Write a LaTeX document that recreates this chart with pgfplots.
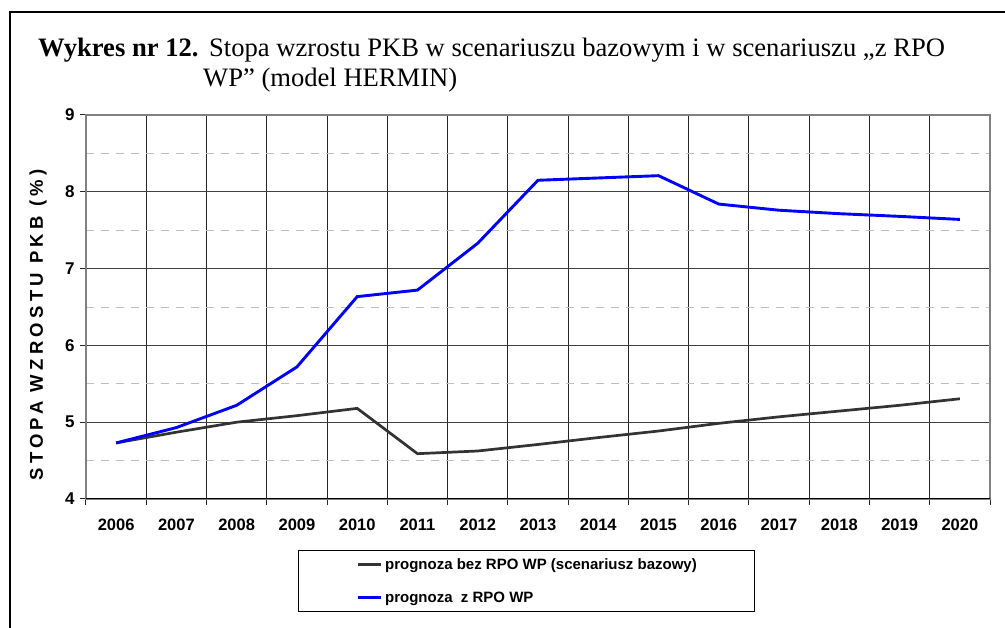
\documentclass[border=0pt]{standalone}
\usepackage{fontspec}
\setmainfont{Liberation Serif}
\newfontfamily\arial{Liberation Sans}
\usepackage{pgfplots}
\pgfplotsset{compat=1.18}
\definecolor{darkline}{HTML}{333333}
\begin{document}
\begin{tikzpicture}[x=1pt,y=1pt]
\useasboundingbox (-86,-129) rectangle (919,499);
% outer frame (top and left edges)
\draw[line width=2pt] (-76,-140) -- (-76,487) -- (930,487);
% title
\node[anchor=base west, inner sep=0pt, font=\bfseries\fontsize{26.6}{30}\selectfont] at (-48,442) {Wykres nr 12.};
\node[anchor=base west, inner sep=0pt, font=\fontsize{26.6}{30}\selectfont] at (123,442) {Stopa wzrostu PKB w scenariuszu bazowym i w scenariuszu „z RPO};
\node[anchor=base west, inner sep=0pt, font=\fontsize{26.6}{30}\selectfont] at (117,412) {WP” (model HERMIN)};
% y label
\node[rotate=90, inner sep=0pt, font=\arial\bfseries\fontsize{18.5}{20}\selectfont\addfontfeature{LetterSpace=23}] at (-48,174) {STOPA WZROSTU PKB (\%)};
\begin{axis}[
  scale only axis, width=904pt, height=384pt,
  xmin=-0.5, xmax=14.5, ymin=4, ymax=9,
  xtick={-0.5,0.5,1.5,2.5,3.5,4.5,5.5,6.5,7.5,8.5,9.5,10.5,11.5,12.5,13.5,14.5},
  x tick label as interval,
  xticklabels={2006,2007,2008,2009,2010,2011,2012,2013,2014,2015,2016,2017,2018,2019,2020},
  ytick={4,5,6,7,8,9},
  yticklabels={4,5,6,7,8,9},
  minor ytick={4.5,5.5,6.5,7.5,8.5},
  tick pos=left, tick align=outside,
  major tick length=6pt, minor tick length=0pt,
  tick style={black!85, line width=1pt},
  xmajorgrids, ymajorgrids, yminorgrids,
  x grid style={black!85, line width=0.9pt},
  major grid style={black!75, line width=0.9pt},
  minor grid style={black!25, line width=0.9pt, dash pattern=on 8pt off 7pt},
  axis line style={black!50, line width=1.5pt},
  xticklabel style={font=\arial\bfseries\fontsize{16.5}{18}\selectfont, yshift=-10pt},
  yticklabel style={font=\arial\bfseries\fontsize{17}{19}\selectfont, xshift=-2pt},
  legend style={at={(axis description cs:0.4873,-0.1328)}, anchor=north,
    draw=black, line width=0.8pt, inner xsep=58pt, inner ysep=8pt,
    nodes={inner sep=0pt}, column sep=3pt,
    font=\arial\bfseries\fontsize{15}{17}\selectfont, row sep=21pt},
  legend cell align=left,
  legend image code/.code={\draw[#1] (0pt,0pt) -- (23pt,0pt);},
]
\addplot[color=darkline, line width=2.7pt] coordinates {
(0,4.73) (1,4.87) (2,5.00) (3,5.085) (4,5.18) (5,4.59) (6,4.625) (7,4.71)
(8,4.80) (9,4.885) (10,4.985) (11,5.07) (12,5.145) (13,5.22) (14,5.305)};
\addlegendentry{prognoza bez RPO WP (scenariusz bazowy)}
\addplot[color=blue, line width=2.9pt] coordinates {
(0,4.73) (1,4.93) (2,5.22) (3,5.72) (4,6.635) (5,6.72) (6,7.33) (7,8.15)
(8,8.18) (9,8.21) (10,7.84) (11,7.76) (12,7.715) (13,7.68) (14,7.64)};
\addlegendentry{prognoza\ \ z RPO WP}
\draw[black, line width=1.5pt] (rel axis cs:0,0) -- (rel axis cs:1,0);
\end{axis}
\end{tikzpicture}
\end{document}
